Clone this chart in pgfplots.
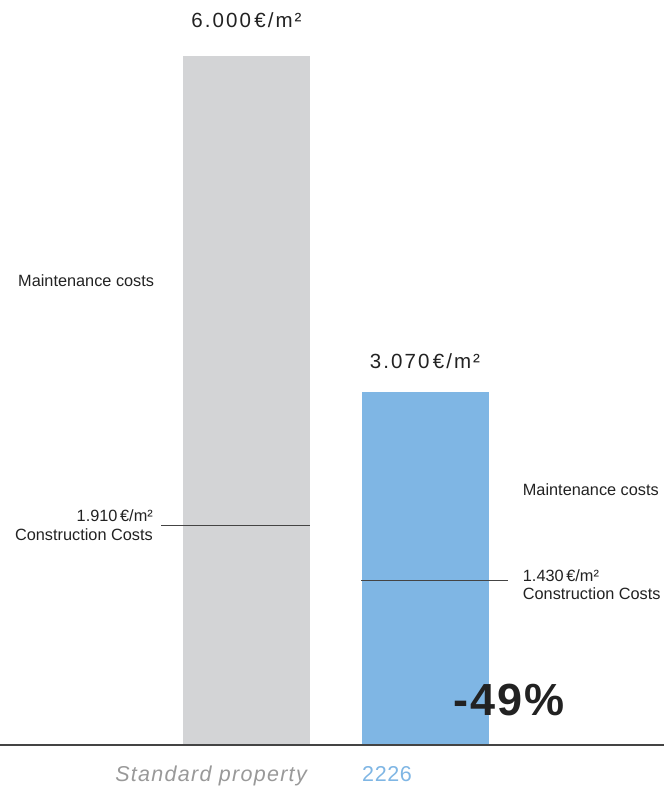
\documentclass[border=0pt]{standalone}
\usepackage{fontspec}
\setmainfont{Liberation Sans}
\usepackage{pgfplots}
\pgfplotsset{compat=1.18}
\definecolor{greybar}{HTML}{D3D4D6}
\definecolor{bluebar}{HTML}{7FB6E4}
\definecolor{txt}{HTML}{222222}
\definecolor{subgrey}{HTML}{999999}
\definecolor{axisline}{HTML}{444444}
\newcommand{\bigtxt}{\fontsize{20.5}{24}\selectfont\addfontfeatures{LetterSpace=10}}
\newcommand{\smtxt}{\fontsize{16.3}{19}\selectfont}
\begin{document}
\begin{tikzpicture}
\begin{axis}[
  scale only axis, width=664pt, height=787pt,
  xmin=0, xmax=664, ymin=-365.7, ymax=6487.7,
  hide axis, clip=false,
]
% bars
\addplot[ybar, bar width=127, bar shift=0pt, fill=greybar, draw=none] coordinates {(246.5,6000)};
\addplot[ybar, bar width=127, bar shift=0pt, fill=bluebar, draw=none] coordinates {(425,3070)};
% construction cost markers
\addplot[axisline, line width=0.9pt] coordinates {(161,1910) (310,1910)};
\addplot[axisline, line width=0.9pt] coordinates {(361,1430) (508,1430)};
% baseline
\addplot[axisline, line width=1.2pt] coordinates {(0,0) (664,0)};
% labels
\node[anchor=base, text=txt, inner sep=0pt] at (axis cs:246.5,6246) {\bigtxt 6.000\,€/m²};
\node[anchor=base, text=txt, inner sep=0pt] at (axis cs:425,3280) {\bigtxt 3.070\,€/m²};
\node[anchor=base west, text=txt, inner sep=0pt] at (axis cs:18,3997) {\smtxt Maintenance costs};
\node[anchor=base west, text=txt, inner sep=0pt] at (axis cs:522.7,2177) {\smtxt Maintenance costs};
\node[anchor=base east, text=txt, inner sep=0pt] at (axis cs:153,1944) {\smtxt 1.910\,€/m²};
\node[anchor=base east, text=txt, inner sep=0pt] at (axis cs:153,1783) {\smtxt Construction Costs};
\node[anchor=base west, text=txt, inner sep=0pt] at (axis cs:522.7,1425) {\smtxt 1.430\,€/m²};
\node[anchor=base west, text=txt, inner sep=0pt] at (axis cs:522.7,1263) {\smtxt Construction Costs};
\node[anchor=base, text=txt, inner sep=0pt] at (axis cs:509,261) {\fontsize{45}{50}\selectfont\bfseries\addfontfeatures{LetterSpace=4}-49\%};
\node[anchor=base east, text=subgrey, inner sep=0pt] at (axis cs:307,-320) {\fontsize{21.5}{25}\selectfont\itshape\addfontfeatures{LetterSpace=6}Standard property};
\node[anchor=base west, text=bluebar, inner sep=0pt] at (axis cs:362,-320) {\fontsize{21.5}{25}\selectfont\addfontfeatures{LetterSpace=3}2226};
\end{axis}
\pgfresetboundingbox
\path (current axis.south west) rectangle (current axis.north east);
\end{tikzpicture}
\end{document}
